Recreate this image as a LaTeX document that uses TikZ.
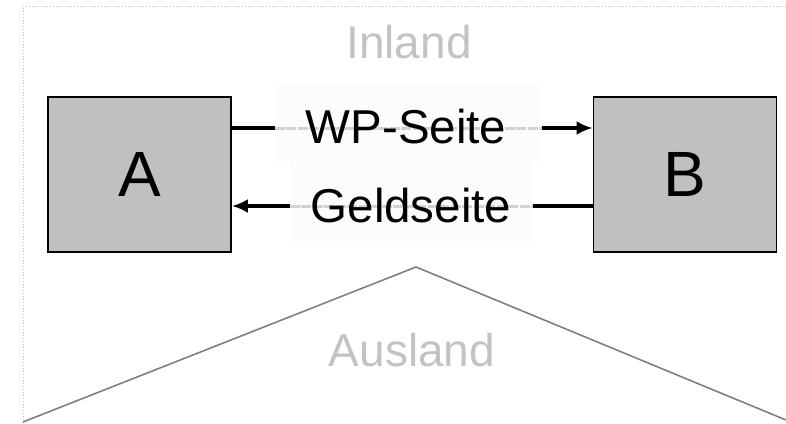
\documentclass[tikz,border=0pt]{standalone}
\usepackage{fontspec}
\setmainfont{Liberation Sans}
\usetikzlibrary{arrows.meta}
\definecolor{boxgray}{RGB}{192,192,192}
\definecolor{txtgray}{RGB}{195,195,195}
\definecolor{linegray}{RGB}{128,128,128}
\definecolor{framegray}{RGB}{190,190,190}
\definecolor{dashgray}{RGB}{210,210,210}
\definecolor{bgwhite}{RGB}{252,252,252}
\tikzset{
  party/.style={draw=black, line width=1.8pt, fill=boxgray, minimum width=183pt, minimum height=155pt, inner sep=0pt, font=\fontsize{64}{70}\selectfont},
  region/.style={anchor=base, inner sep=0pt, text=txtgray, font=\fontsize{46}{50}\selectfont},
  flowtext/.style={anchor=base, inner sep=0pt, font=\fontsize{47.5}{52}\selectfont},
  flowbg/.style={fill=bgwhite, draw=none, inner sep=0pt},
  flow/.style={line width=3.5pt, -{Latex[length=16pt,width=14pt]}},
  seam/.style={dashgray, line width=3pt, dash pattern=on 10pt off 1.5pt},
}
\begin{document}
\begin{tikzpicture}[x=1pt,y=-1pt]
\useasboundingbox (0,0) rectangle (786,423);
% frame
\draw[framegray, line width=1pt, dotted] (23,423) -- (23,6) -- (786,6);
% border line Inland/Ausland
\coordinate (l) at (23,422);
\coordinate (p) at (416,267);
\coordinate (r) at (786,420);
\draw[linegray, line width=1.6pt] (l) -- (p) -- (r);
% region labels
\node[region] (inland) at (409,58) {Inland};
\node[region] (ausland) at (412,366) {Ausland};
% parties
\node[party] (A) at (139.5,174.5) {A};
\node[party] (B) at (685,174.5) {B};
% flows
\draw[flow] ([yshift=46.5pt]A.east) -- ([yshift=46.5pt]B.west);
\draw[flow] ([yshift=-31.5pt]B.west) -- ([yshift=-31.5pt]A.east);
% label backgrounds
\node[flowbg, minimum width=267pt, minimum height=77pt] (wpbg) at (408.5,123.5) {};
\node[flowbg, minimum width=243pt, minimum height=80pt] (gbg) at (411.5,202) {};
\draw[seam] (wpbg.west |- 0,128) -- (wpbg.east |- 0,128);
\draw[seam] (gbg.west |- 0,206) -- (gbg.east |- 0,206);
% flow labels
\node[flowtext] (wp) at (406,143) {WP-Seite};
\node[flowtext] (geld) at (411,222) {Geldseite};
\end{tikzpicture}
\end{document}
